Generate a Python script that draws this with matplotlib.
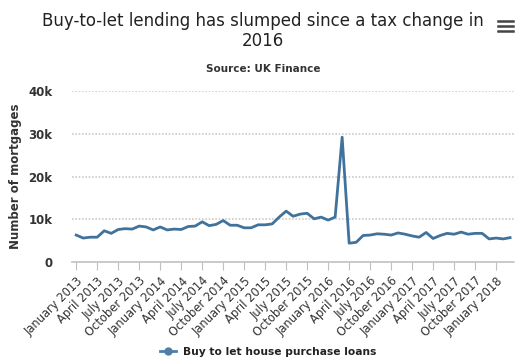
import numpy as np
import matplotlib.pyplot as plt
from matplotlib.lines import Line2D

# Дані (щомісячно, січень 2013 - березень 2018)
months = ["January", "February", "March", "April", "May", "June", "July",
          "August", "September", "October", "November", "December"]
categories = [f"{months[i % 12]} {2013 + i // 12}" for i in range(63)]
loans = [6300, 5600, 5800, 5800, 7300, 6700, 7600, 7800, 7700, 8400, 8200, 7500,
         8200, 7500, 7700, 7600, 8300, 8400, 9400, 8500, 8800, 9700, 8600, 8600,
         8000, 8000, 8700, 8700, 8900, 10500, 11900, 10700, 11200, 11400, 10100, 10500,
         9800, 10500, 29200, 4400, 4600, 6200, 6300, 6600, 6500, 6300, 6800, 6500,
         6100, 5800, 6900, 5500, 6200, 6700, 6500, 7000, 6500, 6700, 6700, 5400,
         5600, 5400, 5700]
yticks = [0, 10000, 20000, 30000, 40000]
ytick_labels = ["0", "10k", "20k", "30k", "40k"]

line_color = "#41729c"
text_color = "#333333"

W, H = 526, 362
fig = plt.figure(figsize=(W / 100, H / 100), dpi=100)
ax = fig.add_axes([72 / W, 1 - 262 / H, (515 - 72) / W, (262 - 91) / H])

x = np.arange(len(loans))
ax.plot(x, loans, color=line_color, lw=2, solid_joinstyle="round")

ax.set_ylim(0, 40000)
ax.set_xlim(-0.6, len(loans) - 0.3)
ax.set_yticks(yticks)
ax.set_yticklabels(ytick_labels, fontsize=8.5, fontweight="bold", color=text_color)
for v in yticks[1:]:
    ax.axhline(v, color="#cccccc", lw=1.2, ls=(0, (1, 1)), zorder=0)

tick_pos = x[::3]
ax.set_xticks(tick_pos)
ax.set_xticklabels([categories[i] for i in tick_pos], rotation=45, ha="right",
                   rotation_mode="anchor", fontsize=8.3, color=text_color)
ax.tick_params(axis="x", length=6, color="#c0c0c0", pad=3)
ax.tick_params(axis="y", length=0, pad=14)

for side in ["top", "right", "left"]:
    ax.spines[side].set_visible(False)
ax.spines["bottom"].set_color("#c0c0c0")
ax.spines["bottom"].set_linestyle((0, (1, 1)))
ax.spines["bottom"].set_linewidth(1.2)

ax.set_ylabel("Number of mortgages", fontsize=8.5, fontweight="bold",
              color=text_color)
ax.yaxis.set_label_coords(-50 / (515 - 72), 0.5)

# Заголовок і підзаголовок
fig.text(263 / W, 1 - 31 / H, "Buy-to-let lending has slumped since a tax change in\n2016",
         ha="center", va="center", fontsize=12, color="#222222", linespacing=1.15)
fig.text(263 / W, 1 - 69 / H, "Source: UK Finance", ha="center", va="center",
         fontsize=7.5, fontweight="bold", color=text_color)

# Іконка меню
for yy in [21, 26, 31]:
    fig.add_artist(Line2D([498 / W, 513 / W], [1 - yy / H, 1 - yy / H],
                          color="#444444", lw=1.8, transform=fig.transFigure))

# Легенда
fig.legend([Line2D([], [], color="#4f7fa8", lw=2, marker="o", markersize=5)],
           ["Buy to let house purchase loans"], loc="center",
           bbox_to_anchor=(268 / W, 1 - 352 / H), frameon=False,
           prop={"weight": "bold", "size": 7.7}, handlelength=1.5, handletextpad=0.6,
           labelcolor="#222222")

fig.savefig("out.png", dpi=100, facecolor="white")
